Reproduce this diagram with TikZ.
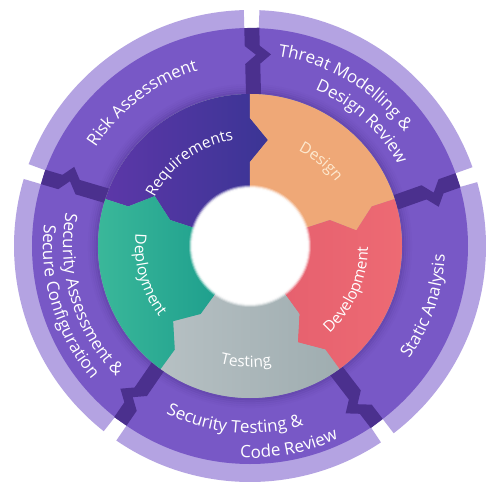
\documentclass[tikz,border=0pt]{standalone}
\usepackage{fontspec}
\setmainfont{Open Sans}
\usetikzlibrary{decorations.text,calc}
\definecolor{body}{HTML}{7858C6}
\definecolor{lightstrip}{HTML}{B4A3E2}
\definecolor{bandcol}{HTML}{4B308E}
\definecolor{reqA}{HTML}{5C37A8}
\definecolor{reqB}{HTML}{3B3595}
\definecolor{design}{HTML}{EFA877}
\definecolor{devA}{HTML}{E45E6D}
\definecolor{devB}{HTML}{EE6B74}
\definecolor{testA}{HTML}{B6C0C3}
\definecolor{testB}{HTML}{9FADB0}
\definecolor{depA}{HTML}{3DBA9B}
\definecolor{depB}{HTML}{17998A}
\definecolor{cream}{HTML}{FDE9CF}
% inner segment: #1 = clockwise boundary angle, #2 = fill/shade options
\newcommand{\innerseg}[2]{%
  \path[#2] (0,0) -- (#1:84pt) -- ($(#1:106pt)+(#1-90:18pt)$) -- (#1:128pt) -- (#1:152pt)
    arc[start angle=#1, end angle=#1+72, radius=152pt]
    -- (#1+72:128pt) -- ($(#1+72:106pt)+(#1-18:18pt)$) -- (#1+72:84pt) -- cycle;}
% outer dark band: #1 = boundary angle
\newcommand{\outerband}[1]{%
  \fill[bandcol] (#1:150pt) -- (#1:182pt) -- ($(#1:191pt)+(#1-90:11pt)$) -- (#1:200pt) -- (#1:218pt)
    -- ($(#1:218pt)+(#1-90:15pt)$) -- ($(#1:200pt)+(#1-90:15pt)$) -- ($(#1:191pt)+(#1-90:26pt)$)
    -- ($(#1:182pt)+(#1-90:15pt)$) -- ($(#1:150pt)+(#1-90:15pt)$) -- cycle;}
% light outer strip: #1 = clockwise boundary angle
\newcommand{\lightseg}[1]{%
  \fill[lightstrip] (#1:205pt) -- (#1:236pt) arc[start angle=#1, end angle=#1+68.2, radius=236pt]
    -- (#1+68.2:205pt) arc[start angle=#1+68.2, end angle=#1, radius=205pt] -- cycle;}
% text along arcs: #1 centre angle, #2 baseline radius, #3 size, #4 colour, #5 text
\newcommand{\cwlabel}[5]{%
  \path[decorate, decoration={text along path, text align=center, text color=#4,
    text={|\fontsize{#3}{#3}\selectfont|#5}}]
    (#1+60:#2pt) arc[start angle=#1+60, end angle=#1-60, radius=#2pt];}
\newcommand{\ccwlabel}[5]{%
  \path[decorate, decoration={text along path, text align=center, text color=#4,
    text={|\fontsize{#3}{#3}\selectfont|#5}}]
    (#1-60:#2pt) arc[start angle=#1-60, end angle=#1+60, radius=#2pt];}
\begin{document}
\begin{tikzpicture}[x=1pt,y=1pt]
\useasboundingbox[fill=white] (-250,-244) rectangle (235,246);
% light strips
\foreach \b in {91.5,19.5,-52.5,-124.5,163.5}{\lightseg{\b}}
% outer body
\fill[body, even odd rule] (0,0) circle[radius=218pt] circle[radius=148pt];
% dark bands between outer segments
\foreach \b in {91.5,19.5,-52.5,-124.5,163.5}{\outerband{\b}}
% soft shadow of the inner ring
\foreach \i/\o in {0/0.34,1/0.24,2/0.15,3/0.08,4/0.04}{
  \draw[bandcol, opacity=\o, line width=2.2pt] (0,0) circle[radius={(153+2*\i)*1pt}];}
% inner ring
\fill[testB] (0,0) circle[radius=152pt];
\innerseg{90}{left color=reqA, right color=reqB}
\innerseg{18}{fill=design}
\innerseg{-54}{left color=devA, right color=devB}
\innerseg{-126}{left color=testA, right color=testB}
\innerseg{162}{left color=depA, right color=depB}
% hole with a soft edge
\foreach \i/\o in {0/0.25,1/0.45,2/0.65,3/0.85}{
  \fill[white, opacity=\o] (0,0) circle[radius={(61-\i)*1pt}];}
\fill[white] (0,0) circle[radius=57pt];
% outer labels
\cwlabel{127}{183}{17}{white}{Risk Assessment}
\cwlabel{59}{192}{17}{white}{Threat Modelling {\&}}
\cwlabel{48}{169}{17}{white}{Design Review}
\ccwlabel{-19}{195}{17}{white}{Static Analysis}
\ccwlabel{265}{187}{17}{white}{Security Testing {\&}}
\ccwlabel{281}{212}{17}{white}{Code Review}
\ccwlabel{197}{187}{17}{white}{Security Assessment {\&}}
\ccwlabel{197}{207}{17}{white}{Secure Configuration}
% inner labels
\cwlabel{126}{107}{15.5}{white}{Requirements}
\cwlabel{50}{107}{15.5}{cream}{Design}
\ccwlabel{-24}{118}{15.5}{white}{Development}
\ccwlabel{268}{121}{15.5}{white}{Testing}
\ccwlabel{196}{115}{15.5}{white}{Deployment}
\end{tikzpicture}
\end{document}
